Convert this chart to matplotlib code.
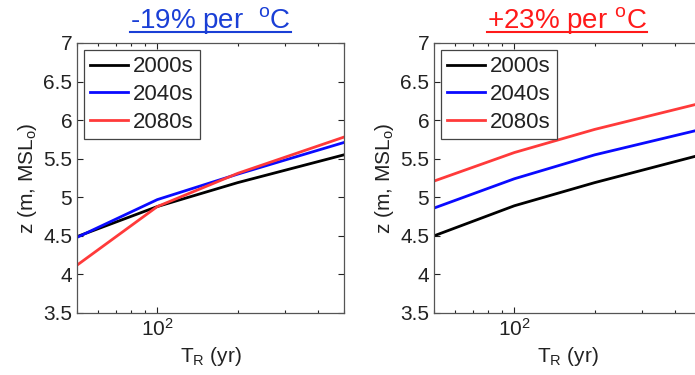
import matplotlib
matplotlib.use("Agg")
import matplotlib.pyplot as plt
import matplotlib.ticker as ticker
from matplotlib.lines import Line2D

plt.rcParams['font.family'] = ['Liberation Sans', 'DejaVu Sans']
plt.rcParams['mathtext.default'] = 'regular'

# return periods (yr)
T_R = [50, 100, 200, 500]
labels = ['2000s', '2040s', '2080s']

# left panel: -19% per oC
left_2000s = [4.49, 4.88, 5.19, 5.55]
left_2040s = [4.48, 4.97, 5.30, 5.71]
left_2080s = [4.12, 4.88, 5.31, 5.78]

# right panel: +23% per oC
right_2000s = [4.50, 4.89, 5.19, 5.55]
right_2040s = [4.86, 5.24, 5.55, 5.88]
right_2080s = [5.21, 5.58, 5.88, 6.22]

yticks = [3.5, 4, 4.5, 5, 5.5, 6, 6.5, 7]
titles = ['-19% per  $^{o}$C', '+23% per $^{o}$C']
title_colors = ['#1a3fd6', '#ff1a1a']
line_colors = ['black', '#0a0aff', '#ff3a3a']
TPAD = 10.5

fig = plt.figure(figsize=(6.95, 3.75), dpi=100)
ax_l = fig.add_axes([77/695, 62/375, 0.384, 270/375])
ax_r = fig.add_axes([434/695, 62/375, 0.384, 270/375])

panels = [(ax_l, [left_2000s, left_2040s, left_2080s]),
          (ax_r, [right_2000s, right_2040s, right_2080s])]

for i, (ax, series) in enumerate(panels):
    for vals, c, lab in zip(series, line_colors, labels):
        ax.plot(T_R, vals, color=c, lw=2, label=lab)
    ax.set_xscale('log')
    ax.set_xlim(50, 500)
    ax.set_ylim(3.5, 7)
    ax.set_yticks(yticks)
    ax.yaxis.set_major_formatter(ticker.FormatStrFormatter('%g'))
    ax.xaxis.set_minor_formatter(ticker.NullFormatter())
    ax.tick_params(which='both', direction='in', top=True, right=True,
                   labelsize=15, colors='#222222', width=0.8)
    ax.tick_params(which='major', length=4)
    ax.tick_params(which='minor', length=2.5)
    for s in ax.spines.values():
        s.set_color('#555555')
        s.set_linewidth(0.9)
    ax.set_xlabel('T$_R$ (yr)', fontsize=15, color='#222222', labelpad=4)
    ax.set_ylabel('z (m, MSL$_o$)', fontsize=15, color='#222222', labelpad=3)
    ax.set_title(titles[i], fontsize=20, color=title_colors[i], pad=TPAD)
    leg = ax.legend(loc='upper left', fontsize=16, handlelength=1.7,
                    handletextpad=0.2, labelspacing=0.3, borderpad=0.3,
                    borderaxespad=0.3, fancybox=False, framealpha=1)
    leg.get_frame().set_edgecolor('#444444')
    leg.get_frame().set_linewidth(0.9)
    for t in leg.get_texts():
        t.set_color('#222222')

# underline the titles
fig.canvas.draw()
W, H = fig.bbox.width, fig.bbox.height
for i, (ax, _) in enumerate(panels):
    bb = ax.title.get_window_extent()
    base = ax.get_position().y1 * H + TPAD * fig.dpi / 72
    y = (base - 4) / H
    fig.add_artist(Line2D([bb.x0 / W, bb.x1 / W], [y, y],
                          color=title_colors[i], lw=1.5, transform=fig.transFigure))

fig.savefig('out.png', dpi=100)
